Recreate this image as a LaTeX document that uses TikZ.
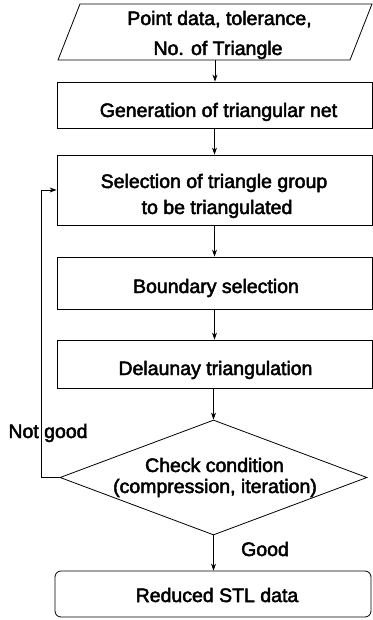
\documentclass[tikz,border=0pt]{standalone}
\usepackage{fontspec}
\setmainfont{Liberation Sans}[FakeBold=2.5]
\usetikzlibrary{shapes.geometric,arrows.meta}
\begin{document}
\begin{tikzpicture}[x=1pt,y=-1pt,line width=0.8pt,
  box/.style={draw,minimum width=315pt,minimum height=#1,inner sep=0pt},
  txt/.style={anchor=base,font=\fontsize{19.5}{23}\selectfont,inner sep=0pt},
  arr/.style={-{Stealth[length=7pt,width=5pt]}}]
\useasboundingbox (0,0) rectangle (372,620);
% input parallelogram
\node[minimum width=292pt,minimum height=56pt,inner sep=0pt] (in) at (215,32) {};
\draw (58,60) -- (80,4) -- (372,4) -- (350,60) -- cycle;
% process boxes
\node[box=46pt] (b2) at (214.5,105) {};
\node[box=70pt] (b3) at (214.5,190) {};
\node[box=52pt] (b4) at (214.5,283) {};
\node[box=48pt] (b5) at (214.5,364) {};
\node[draw,diamond,minimum width=307pt,minimum height=115pt,inner sep=0pt] (chk) at (213.5,477.5) {};
\node[draw,rounded corners=6pt,minimum width=316pt,minimum height=46pt,inner sep=0pt] (b6) at (213,594) {};
% texts
\node[txt] (t1a) at (219.5,25) {Point data, tolerance,};
\node[txt] (t1b) at (218,55) {No. of Triangle};
\node[txt] (t2) at (218.5,117) {Generation of triangular net};
\node[txt] (t3a) at (214,188) {Selection of triangle group};
\node[txt] (t3b) at (217,214) {to be triangulated};
\node[txt] (t4) at (216,293) {Boundary selection};
\node[txt] (t5) at (215.5,375) {Delaunay triangulation};
\node[txt] (t6a) at (214.5,472) {Check condition};
\node[txt] (t6b) at (215,493) {(compression, iteration)};
\node[txt] (lng) at (48,438) {Not good};
\node[txt] (lg) at (265,556) {Good};
\node[txt] (t7) at (217,602) {Reduced STL data};
% connectors
\draw[arr] (in.south) -- (in.south |- b2.north);
\draw[arr] (b2.south) -- (b3.north);
\draw[arr] (b3.south) -- (b4.north);
\draw[arr] (b4.south) -- (b5.north);
\draw[arr] (b5.south -| chk.north) -- (chk.north);
\draw[arr] (chk.south) -- (chk.south |- b6.north);
\draw[arr] (chk.west) -- ++(-18,0) |- (b3.west);
\end{tikzpicture}
\end{document}
